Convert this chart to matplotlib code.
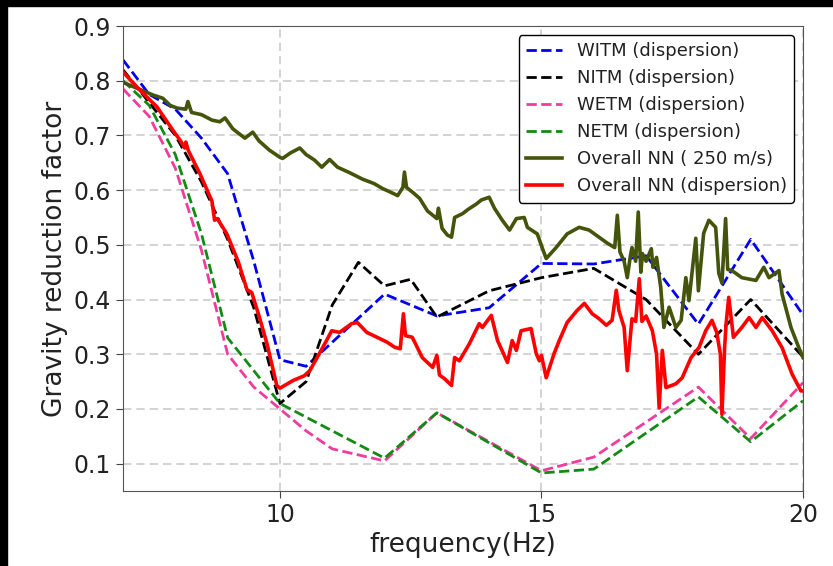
import matplotlib
matplotlib.use('Agg')
import matplotlib.pyplot as plt
from matplotlib.patches import Rectangle
import numpy as np

# detector dispersion curves (piecewise)
witm_f = [7.0, 7.5, 8.0, 8.5, 9.0, 9.5, 10.0, 10.5, 12.0, 13.0, 14.0, 15.0, 16.0, 17.0, 18.0, 19.0, 20.0]
witm_r = [0.838, 0.775, 0.748, 0.695, 0.63, 0.47, 0.29, 0.278, 0.41, 0.37, 0.385, 0.466, 0.465, 0.48, 0.355, 0.51, 0.372]

nitm_f = [7.0, 7.5, 8.0, 8.5, 9.0, 9.5, 10.0, 10.5, 11.0, 11.5, 12.0, 12.5, 13.0, 14.0, 15.0, 16.0, 17.0, 18.0, 19.0, 20.0]
nitm_r = [0.82, 0.76, 0.70, 0.615, 0.51, 0.385, 0.21, 0.25, 0.39, 0.468, 0.425, 0.437, 0.368, 0.416, 0.44, 0.457, 0.40, 0.30, 0.40, 0.295]

wetm_f = [7.0, 7.5, 8.0, 8.5, 9.0, 9.5, 10.0, 10.5, 11.0, 12.0, 13.0, 15.0, 16.0, 18.0, 19.0, 20.0]
wetm_r = [0.785, 0.735, 0.64, 0.49, 0.30, 0.24, 0.20, 0.16, 0.127, 0.105, 0.193, 0.087, 0.112, 0.24, 0.146, 0.248]

netm_f = [7.0, 7.5, 8.0, 8.5, 9.0, 10.0, 12.0, 13.0, 15.0, 16.0, 18.0, 19.0, 20.0]
netm_r = [0.80, 0.755, 0.665, 0.52, 0.33, 0.21, 0.11, 0.193, 0.083, 0.09, 0.222, 0.14, 0.215]

# overall NN, constant 250 m/s
nn250_f = [7.0, 7.3, 7.57, 7.76, 7.9, 8.03, 8.2, 8.24, 8.31, 8.5, 8.7, 8.85, 8.95, 9.1,
           9.33, 9.48, 9.6, 9.8, 10.0, 10.05, 10.2, 10.38, 10.5, 10.66, 10.8, 10.95, 11.1,
           11.33, 11.58, 11.8, 11.96, 12.1, 12.25, 12.35, 12.38, 12.42, 12.55, 12.67, 12.82,
           13.0, 13.03, 13.1, 13.2, 13.28, 13.34, 13.49, 13.6, 13.76, 13.85, 14.0, 14.1,
           14.25, 14.39, 14.52, 14.67, 14.73, 14.92, 15.02, 15.09, 15.28, 15.49, 15.72,
           15.91, 16.1, 16.26, 16.4, 16.45, 16.5, 16.58, 16.64, 16.7, 16.73, 16.8, 16.85,
           16.9, 16.93, 17.0, 17.1, 17.13, 17.2, 17.28, 17.34, 17.44, 17.57, 17.67, 17.76,
           17.82, 17.95, 18.0, 18.1, 18.2, 18.33, 18.39, 18.45, 18.52, 18.56, 18.64, 18.83,
           19.1, 19.25, 19.35, 19.54, 19.6, 19.77, 19.92, 20.0]
nn250_r = [0.797, 0.785, 0.774, 0.768, 0.755, 0.75, 0.748, 0.762, 0.742, 0.738, 0.728, 0.725, 0.732, 0.712,
           0.695, 0.706, 0.69, 0.673, 0.66, 0.658, 0.668, 0.677, 0.665, 0.655, 0.642, 0.656, 0.642,
           0.632, 0.62, 0.612, 0.603, 0.597, 0.59, 0.605, 0.633, 0.605, 0.595, 0.585, 0.562,
           0.548, 0.567, 0.53, 0.518, 0.514, 0.55, 0.557, 0.565, 0.575, 0.582, 0.587, 0.567,
           0.545, 0.527, 0.548, 0.55, 0.532, 0.52, 0.493, 0.475, 0.495, 0.52, 0.532,
           0.527, 0.514, 0.503, 0.495, 0.554, 0.487, 0.47, 0.44, 0.48, 0.495, 0.47, 0.56,
           0.45, 0.484, 0.47, 0.493, 0.459, 0.477, 0.422, 0.349, 0.386, 0.349, 0.362, 0.44,
           0.398, 0.512, 0.416, 0.521, 0.545, 0.532, 0.448, 0.43, 0.548, 0.455, 0.453, 0.44,
           0.435, 0.459, 0.44, 0.453, 0.41, 0.349, 0.312, 0.294]

# overall NN with dispersion
nndisp_f = [7.0, 7.3, 7.65, 7.95, 8.1, 8.18, 8.2, 8.25, 8.47, 8.7, 8.75, 8.8, 8.98, 9.2, 9.37,
            9.46, 9.6, 9.75, 9.94, 10.0, 10.25, 10.4, 10.47, 10.57, 10.7, 10.89, 10.99, 11.14,
            11.37, 11.48, 11.66, 11.9, 12.05, 12.19, 12.3, 12.36, 12.4, 12.53, 12.72, 12.92,
            13.0, 13.05, 13.15, 13.28, 13.34, 13.43, 13.62, 13.81, 13.87, 14.04, 14.16, 14.35,
            14.44, 14.52, 14.61, 14.8, 14.9, 14.96, 15.0, 15.09, 15.24, 15.34, 15.49, 15.68,
            15.82, 15.97, 16.1, 16.24, 16.35, 16.43, 16.48, 16.58, 16.64, 16.73, 16.8, 16.87,
            16.92, 17.0, 17.12, 17.2, 17.25, 17.31, 17.38, 17.57, 17.69, 17.86, 18.01, 18.14,
            18.26, 18.35, 18.42, 18.45, 18.5, 18.53, 18.58, 18.67, 18.83, 18.97, 19.1, 19.22,
            19.41, 19.6, 19.79, 19.96, 20.0]
nndisp_r = [0.816, 0.785, 0.752, 0.71, 0.69, 0.677, 0.688, 0.672, 0.63, 0.58, 0.545, 0.548, 0.521, 0.47, 0.418,
            0.413, 0.37, 0.32, 0.243, 0.238, 0.252, 0.258, 0.261, 0.27, 0.292, 0.325, 0.343, 0.34,
            0.356, 0.358, 0.34, 0.329, 0.322, 0.313, 0.31, 0.374, 0.334, 0.331, 0.294, 0.276,
            0.298, 0.262, 0.255, 0.243, 0.294, 0.288, 0.319, 0.356, 0.349, 0.371, 0.325, 0.285,
            0.325, 0.307, 0.343, 0.347, 0.301, 0.288, 0.298, 0.257, 0.301, 0.325, 0.358, 0.38,
            0.393, 0.374, 0.365, 0.353, 0.362, 0.417, 0.38, 0.349, 0.27, 0.365, 0.36, 0.438,
            0.36, 0.37, 0.343, 0.3, 0.202, 0.307, 0.239, 0.246, 0.257, 0.294, 0.312, 0.343,
            0.362, 0.34, 0.3, 0.19, 0.31, 0.356, 0.404, 0.331, 0.349, 0.367, 0.349, 0.367,
            0.343, 0.312, 0.264, 0.233, 0.233]

fig = plt.figure(figsize=(8.33, 5.66), dpi=100)
ax = fig.add_axes([0.1477, 0.1325, 0.8163, 0.8215])

ax.plot(witm_f, witm_r, '--', color='#0000ee', lw=2, label='WITM (dispersion)')
ax.plot(nitm_f, nitm_r, '--', color='k', lw=2, label='NITM (dispersion)')
ax.plot(wetm_f, wetm_r, '--', color='#f03c9c', lw=2, label='WETM (dispersion)')
ax.plot(netm_f, netm_r, '--', color='#138a13', lw=2, label='NETM (dispersion)')
ax.plot(nn250_f, nn250_r, '-', color='#44540b', lw=2.6, label='Overall NN ( 250 m/s)')
ax.plot(nndisp_f, nndisp_r, '-', color='#ff0000', lw=2.6, label='Overall NN (dispersion)')

ax.set_xlim(7, 20)
ax.set_ylim(0.05, 0.9)
ax.set_xticks([10, 15, 20])
ax.set_yticks(np.arange(0.1, 0.95, 0.1))
ax.set_yticklabels(['%.1f' % v for v in np.arange(0.1, 0.95, 0.1)])
ax.grid(True, linestyle=(0, (5, 3)), lw=1.2, color='#cccccc')
ax.tick_params(labelsize=17, length=5, color='#444444', labelcolor='#222222')
for s in ax.spines.values():
    s.set_color('#555555')

ax.set_xlabel('frequency(Hz)', fontsize=19, color='#222222')
ax.set_ylabel('Gravity reduction factor', fontsize=19, color='#222222')

leg = ax.legend(loc='upper right', fontsize=13, framealpha=1, edgecolor='k', fancybox=True)
leg.get_frame().set_linewidth(1.0)
for t in leg.get_texts():
    t.set_color('#222222')

# dark frame strips along top and left edges
fig.patches.append(Rectangle((0, 0), 7 / 833, 1, transform=fig.transFigure, color='k', zorder=10))
fig.patches.append(Rectangle((0, 1 - 6 / 566), 1, 6 / 566, transform=fig.transFigure, color='k', zorder=10))

fig.savefig('out.png', dpi=100)
